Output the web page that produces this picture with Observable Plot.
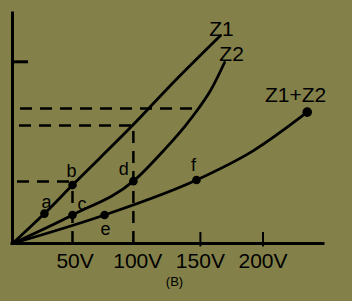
<!DOCTYPE html>
<html>
<head>
<meta charset="utf-8">
<script src="https://cdn.jsdelivr.net/npm/d3@7"></script>
<script src="https://cdn.jsdelivr.net/npm/@observablehq/plot@0.6"></script>
<style>
  html, body { margin: 0; padding: 0; background: #838149; }
  #chart { width: 352px; height: 301px; overflow: hidden; }
</style>
</head>
<body>
<div id="chart"></div>
<script>
// ---- data (voltage V, current I in arbitrary units) ----
const seriesNames = ["Z1", "Z2", "Z1+Z2"];
const z1V = [0, 25.5, 47.9, 96.5, 126.1, 166.1];
const z1I = [0, 1.30, 2.54, 5.17, 6.87, 9.04];
const z2V = [0, 47.9, 96.5, 120.6, 138.1, 148.5, 158.1, 169.3];
const z2I = [0, 1.24, 2.71, 4.04, 5.13, 5.87, 6.65, 7.87];
const z12V = [0, 73.5, 146.9, 192.4, 235.3];
const z12I = [0, 1.24, 2.76, 4.04, 5.71];

const pointNames = ["a", "b", "c", "d", "e", "f", ""];
const pointV = [25.5, 47.9, 47.9, 96.5, 73.5, 146.9, 235.3];
const pointI = [1.30, 2.54, 1.24, 2.71, 1.24, 2.76, 5.71];

// dashed guide lines
const guideHI = [2.70, 5.13, 5.87];
const guideHV1 = [4, 5.6, 6.4];
const guideHV2 = [47.9, 96.5, 148.5];
const guideVV = [47.9, 96.5];
const guideVI = [2.54, 5.13];

const xTicks = [50, 100, 150, 200];
const xTickLabels = ["50V", "100V", "150V", "200V"];
const xTickMarks = [150, 200];
const yTickMarks = [7.9];
const captionText = "(B)";

// ---- build tables ----
const toRows = (name, vs, is) => vs.map((v, i) => ({series: name, V: v, I: is[i]}));
const z1 = toRows(seriesNames[0], z1V, z1I);
const z2 = toRows(seriesNames[1], z2V, z2I);
const z12 = toRows(seriesNames[2], z12V, z12I);
const points = pointNames.map((n, i) => ({name: n, V: pointV[i], I: pointI[i]}));
const labeled = points.filter(p => p.name !== "");
const unlabeled = points.filter(p => p.name === "");
const guidesH = guideHI.map((I, i) => ({I, v1: guideHV1[i], v2: guideHV2[i]}));
const guidesV = guideVV.map((V, i) => ({V, i2: guideVI[i]}));

// label offsets (style)
const pointLabelOffsets = {a: [2, -11.8], b: [-1, -13.6], c: [9.5, -10.3], d: [-9.5, -11.5], e: [1, 14.7], f: [-3, -14.6]};
const seriesLabelOffsets = [[1, -6.7], [7, -8.7], [-11.7, -16.9]];

const font = "'Liberation Sans', Arial, sans-serif";
const lineW = 2.8;

const marks = [
  // guides
  Plot.ruleY(guidesH, {y: "I", x1: "v1", x2: "v2", stroke: "black", strokeWidth: 2.5, strokeDasharray: "12,8"}),
  Plot.ruleX(guidesV, {x: "V", y1: 0, y2: "i2", stroke: "black", strokeWidth: 2.5, strokeDasharray: "12,8"}),
  // axes
  Plot.ruleX([0], {stroke: "black", strokeWidth: 3, strokeLinecap: "square"}),
  Plot.ruleY([0], {stroke: "black", strokeWidth: 3, strokeLinecap: "square"}),
  Plot.ruleY(yTickMarks, {x1: 0, x2: 12.8, stroke: "black", strokeWidth: 3}),
  Plot.ruleX(xTickMarks, {y1: -0.15, y2: 0.48, stroke: "black", strokeWidth: 2}),
  Plot.axisX(xTicks, {
    anchor: "bottom",
    tickSize: 0,
    tickPadding: 9.5,
    tickFormat: d => xTickLabels[xTicks.indexOf(d)],
    fontSize: 21,
    fill: "black"
  }),
  // curves
  ...[z1, z2, z12].map(s => Plot.line(s, {x: "V", y: "I", stroke: "black", strokeWidth: lineW, curve: "monotone-x", strokeLinecap: "round"})),
  // dots
  Plot.dot(labeled, {x: "V", y: "I", r: 4.3, fill: "black"}),
  Plot.dot(unlabeled, {x: "V", y: "I", r: 4.8, fill: "black"}),
  // point labels
  ...labeled.map(p => Plot.text([p], {
    x: "V", y: "I", text: "name",
    dx: pointLabelOffsets[p.name][0], dy: pointLabelOffsets[p.name][1],
    fontSize: 18, fill: "black"
  })),
  // series labels
  ...[z1, z2, z12].map((s, i) => Plot.text(s, Plot.selectLast({
    x: "V", y: "I", text: "series",
    dx: seriesLabelOffsets[i][0], dy: seriesLabelOffsets[i][1],
    fontSize: 21, fill: "black"
  }))),
  // caption
  Plot.text([captionText], {text: d => d, frameAnchor: "bottom", lineAnchor: "middle", dx: 6.5, dy: 38, fontSize: 13, fill: "black"})
];

const chart = Plot.plot({
  width: 352,
  height: 301,
  marginLeft: 12,
  marginRight: 29,
  marginTop: 13,
  marginBottom: 58,
  x: {domain: [0, 248.3], axis: null},
  y: {domain: [0, 10], axis: null},
  style: {background: "#838149", fontFamily: font, color: "black", overflow: "visible"},
  marks
});
document.getElementById("chart").appendChild(chart);
</script>
</body>
</html>
